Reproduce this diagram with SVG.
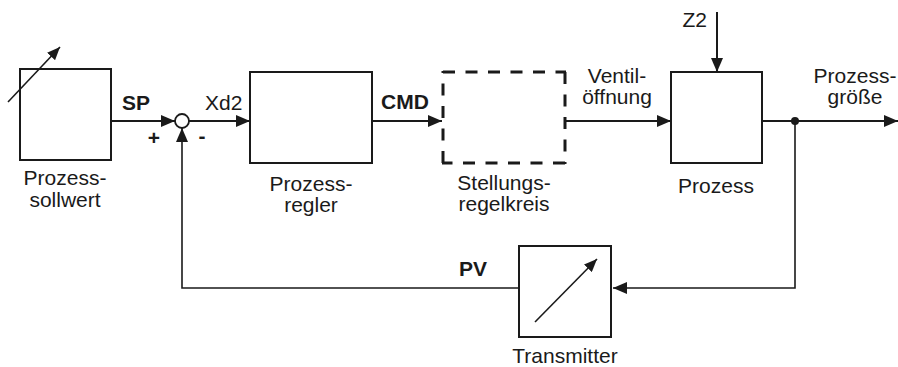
<svg xmlns="http://www.w3.org/2000/svg" width="898" height="367" viewBox="0 0 898 367">
<defs>
<marker id="arr" markerUnits="userSpaceOnUse" markerWidth="14" markerHeight="12" viewBox="0 0 14 12" refX="14" refY="6" orient="auto">
<path d="M0,0 L14,6 L0,12 Z" fill="#1a1a1a"/>
</marker>
<marker id="arrs" markerUnits="userSpaceOnUse" markerWidth="13" markerHeight="11" viewBox="0 0 13 11" refX="13" refY="5.5" orient="auto">
<path d="M0,0 L13,5.5 L0,11 Z" fill="#1a1a1a"/>
</marker>
<style>
.box{fill:#fff;stroke:#1a1a1a;stroke-width:2}
.dash{fill:none;stroke:#1a1a1a;stroke-width:3;stroke-dasharray:12,10.5}
.ln{fill:none;stroke:#1a1a1a;stroke-width:2}
.thin{fill:none;stroke:#1a1a1a;stroke-width:1.6}
text{font-family:"Liberation Sans",Arial,sans-serif;font-size:21px;fill:#1a1a1a}
.c{text-anchor:middle}
.b{font-weight:bold}
</style>
</defs>
<g id="sollwert">
<rect class="box" x="20" y="69" width="91" height="91"/>
<line class="thin" x1="8" y1="102" x2="60" y2="47" marker-end="url(#arrs)"/>
<text class="c" x="65" y="185">Prozess-</text>
<text class="c" x="65" y="207">sollwert</text>
</g>
<g id="summing">
<circle cx="182" cy="121" r="7" fill="#fff" stroke="#1a1a1a" stroke-width="1.8"/>
<text class="c b" x="154" y="145">+</text>
<text class="c b" x="202" y="143">-</text>
</g>
<g id="regler">
<rect class="box" x="250" y="72" width="122" height="91"/>
<text class="c" x="311" y="191">Prozess-</text>
<text class="c" x="311" y="212">regler</text>
</g>
<g id="stellungsregelkreis">
<path class="dash" d="M443,72 H566"/>
<path class="dash" d="M565,72 V164"/>
<path class="dash" d="M565,163 H442"/>
<path class="dash" d="M443,163 V71"/>
<text class="c" x="504" y="190">Stellungs-</text>
<text class="c" x="504" y="211">regelkreis</text>
</g>
<g id="prozess">
<rect class="box" x="671" y="72" width="91" height="91"/>
<text class="c" x="716" y="193">Prozess</text>
</g>
<g id="transmitter">
<rect class="box" x="519" y="246" width="92" height="91"/>
<line class="thin" x1="535" y1="322" x2="597" y2="259" marker-end="url(#arrs)"/>
<text class="c" x="565" y="363">Transmitter</text>
</g>
<g id="connectors">
<line class="ln" x1="111" y1="121" x2="175" y2="121" marker-end="url(#arr)"/>
<line class="ln" x1="189" y1="121" x2="250" y2="121" marker-end="url(#arr)"/>
<line class="ln" x1="372" y1="121" x2="442" y2="121" marker-end="url(#arr)"/>
<line class="ln" x1="566" y1="121" x2="671" y2="121" marker-end="url(#arr)"/>
<line class="ln" x1="762" y1="121" x2="898" y2="121" marker-end="url(#arr)"/>
<line class="ln" x1="717" y1="12" x2="717" y2="72" marker-end="url(#arr)"/>
<circle cx="795" cy="121" r="4" fill="#1a1a1a"/>
<polyline class="thin" points="795,121 795,288 613,288" marker-end="url(#arr)"/>
<polyline class="thin" points="519,288 182,288 182,128" marker-end="url(#arr)"/>
</g>
<g id="labels">
<text class="b" x="122" y="110">SP</text>
<text x="205" y="110">Xd2</text>
<text class="b" x="381" y="109">CMD</text>
<text class="c" x="617" y="83">Ventil-</text>
<text class="c" x="617" y="104">öffnung</text>
<text text-anchor="end" x="707" y="27">Z2</text>
<text class="c" x="855" y="83">Prozess-</text>
<text class="c" x="855" y="104">größe</text>
<text class="b" x="459" y="276">PV</text>
</g>
</svg>
